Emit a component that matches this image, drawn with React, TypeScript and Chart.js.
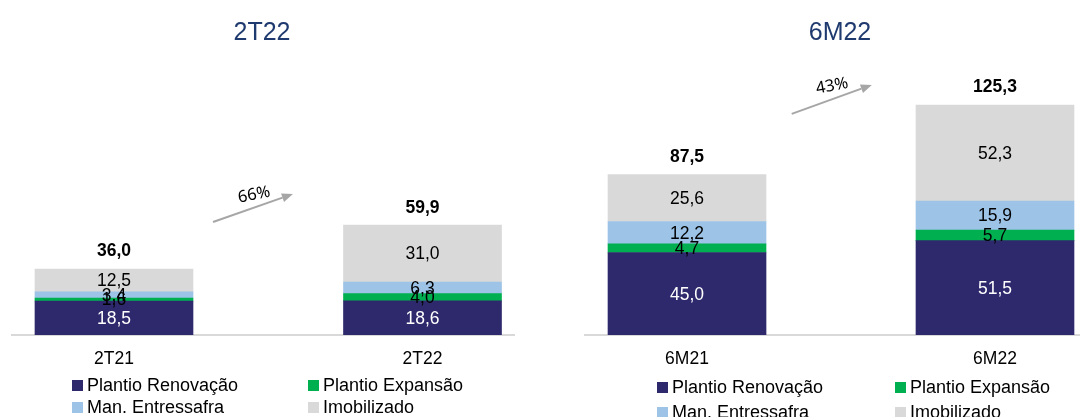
import React, { useEffect, useRef } from "react";
import { Chart, registerables } from "chart.js";

Chart.register(...registerables);

// ---------- DATA ----------
const seriesNames = ["Plantio Renovação", "Plantio Expansão", "Man. Entressafra", "Imobilizado"];
const seriesColors = ["#2E296C", "#00B050", "#9DC3E6", "#D9D9D9"];

const quarterTitle = "2T22";
const quarterCategories = ["2T21", "2T22"];
const quarterRenovacao = [18.5, 18.6];
const quarterExpansao = [1.6, 4.0];
const quarterEntressafra = [3.4, 6.3];
const quarterImobilizado = [12.5, 31.0];
const quarterTotals = [36.0, 59.9];
const quarterGrowth = "66%";

const semesterTitle = "6M22";
const semesterCategories = ["6M21", "6M22"];
const semesterRenovacao = [45.0, 51.5];
const semesterExpansao = [4.7, 5.7];
const semesterEntressafra = [12.2, 15.9];
const semesterImobilizado = [25.6, 52.3];
const semesterTotals = [87.5, 125.3];
const semesterGrowth = "43%";

// ---------- STYLE ----------
const FONT = "'Liberation Sans', Arial, sans-serif";
const TITLE_COLOR = "#1F3A6E";
const ARROW_COLOR = "#A6A6A6";

const fmt = (v: number) => v.toFixed(1).replace(".", ",");

type PanelLayout = {
  left: number;
  width: number;
  padLeft: number;
  padRight: number;
  xMin: number;
  xMax: number;
  titleX: number;
  arrow: { x0: number; y0: number; x1: number; y1: number; tx: number; ty: number };
  legendCols: number[];
  legendRows: number[];
};

type PanelProps = {
  title: string;
  categories: string[];
  series: number[][];
  totals: number[];
  growth: string;
  layout: PanelLayout;
};

function Panel({ title, categories, series, totals, growth, layout }: PanelProps) {
  const ref = useRef<HTMLCanvasElement | null>(null);

  useEffect(() => {
    if (!ref.current) return;

    const extras = {
      id: "panelExtras",
      afterDatasetsDraw(chart: any) {
        const ctx = chart.ctx as CanvasRenderingContext2D;
        const xs = chart.scales.x;
        const ys = chart.scales.y;
        ctx.save();
        // segment value labels
        ctx.textAlign = "center";
        ctx.textBaseline = "middle";
        ctx.font = `17.5px ${FONT}`;
        chart.data.datasets.forEach((ds: any, i: number) => {
          const meta = chart.getDatasetMeta(i);
          meta.data.forEach((el: any, j: number) => {
            const p = el.getProps(["x", "y", "base"], true);
            ctx.fillStyle = i === 0 ? "#FFFFFF" : "#000000";
            ctx.fillText(fmt(series[i][j]), p.x, (p.y + p.base) / 2 + 1);
          });
        });
        // totals above bars
        const lastMeta = chart.getDatasetMeta(chart.data.datasets.length - 1);
        ctx.font = `bold 17.5px ${FONT}`;
        ctx.fillStyle = "#000000";
        lastMeta.data.forEach((el: any, j: number) => {
          const p = el.getProps(["x", "y"], true);
          ctx.fillText(fmt(totals[j]), p.x, p.y - 17.5);
        });
        // panel title
        ctx.font = `25px ${FONT}`;
        ctx.fillStyle = TITLE_COLOR;
        ctx.fillText(title, layout.titleX, 33);
        // growth arrow
        const a = layout.arrow;
        const x0 = xs.getPixelForValue(a.x0);
        const y0 = ys.getPixelForValue(a.y0);
        const x1 = xs.getPixelForValue(a.x1);
        const y1 = ys.getPixelForValue(a.y1);
        const ang = Math.atan2(y1 - y0, x1 - x0);
        const head = 11;
        ctx.strokeStyle = ARROW_COLOR;
        ctx.fillStyle = ARROW_COLOR;
        ctx.lineWidth = 2;
        ctx.beginPath();
        ctx.moveTo(x0, y0);
        ctx.lineTo(x1 - head * Math.cos(ang), y1 - head * Math.sin(ang));
        ctx.stroke();
        ctx.beginPath();
        ctx.moveTo(x1, y1);
        ctx.lineTo(
          x1 - head * Math.cos(ang) + 4.5 * Math.sin(ang),
          y1 - head * Math.sin(ang) - 4.5 * Math.cos(ang)
        );
        ctx.lineTo(
          x1 - head * Math.cos(ang) - 4.5 * Math.sin(ang),
          y1 - head * Math.sin(ang) + 4.5 * Math.cos(ang)
        );
        ctx.closePath();
        ctx.fill();
        // growth text
        const tx = xs.getPixelForValue(a.tx);
        const ty = ys.getPixelForValue(a.ty);
        ctx.translate(tx, ty);
        ctx.rotate((-11 * Math.PI) / 180);
        ctx.font = `16.5px 'Noto Sans', 'Open Sans', sans-serif`;
        ctx.fillStyle = "#000000";
        ctx.fillText(growth, 0, 0);
        ctx.restore();
      },
    };

    const chart = new Chart(ref.current, {
      type: "bar",
      data: {
        datasets: series.map((vals, i) => ({
          label: seriesNames[i],
          data: vals.map((v, j) => ({ x: j, y: v })),
          backgroundColor: seriesColors[i],
          borderWidth: 0,
          barThickness: 158,
        })),
      },
      options: {
        animation: false,
        responsive: false,
        maintainAspectRatio: false,
        layout: { padding: { left: layout.padLeft, right: layout.padRight, top: 60, bottom: 0 } },
        plugins: {
          legend: { display: false },
          tooltip: { enabled: false },
          title: { display: false },
        },
        scales: {
          x: {
            type: "linear",
            min: layout.xMin,
            max: layout.xMax,
            offset: false,
            bounds: "data",
            grace: 0,
            stacked: true,
            grid: { display: false, offset: false },
            border: { display: true, color: "#D9D9D9", width: 2 },
            afterBuildTicks: (s: any) => {
              s.ticks = categories.map((_, i) => ({ value: i }));
            },
            afterFit: (s: any) => {
              s.height = 82;
            },
            ticks: {
              autoSkip: false,
              maxRotation: 0,
              padding: 6,
              color: "#000000",
              font: { family: FONT, size: 17.5 },
              callback: (v: any) => categories[v as number] ?? "",
            },
          },
          y: { display: false, stacked: true, min: 0, max: 150 },
        },
      } as any,
      plugins: [extras],
    });
    return () => chart.destroy();
  }, []);

  return (
    <div style={{ position: "absolute", left: layout.left, top: 0, width: layout.width, height: 417 }}>
      <canvas ref={ref} width={layout.width} height={417} style={{ width: layout.width, height: 417, display: "block" }} />
      {seriesNames.map((name, i) => {
        const col = layout.legendCols[i % 2];
        const row = layout.legendRows[Math.floor(i / 2)];
        return (
          <div
            key={name}
            style={{
              position: "absolute",
              left: col,
              top: row - 11,
              height: 22,
              display: "flex",
              alignItems: "center",
              whiteSpace: "nowrap",
              fontFamily: FONT,
              fontSize: 18,
              color: "#000",
            }}
          >
            <span style={{ display: "inline-block", width: 11, height: 11, background: seriesColors[i], marginRight: 4 }} />
            <span>{name}</span>
          </div>
        );
      })}
    </div>
  );
}

const leftLayout: PanelLayout = {
  left: 0,
  width: 540,
  padLeft: 12,
  padRight: 26,
  xMin: -0.3306,
  xMax: 1.2966,
  titleX: 262,
  arrow: { x0: 0.321, y0: 61.6, x1: 0.58, y1: 76.9, tx: 0.454, ty: 76.4 },
  legendCols: [72, 308],
  legendRows: [385, 407],
};

const rightLayout: PanelLayout = {
  left: 540,
  width: 540,
  padLeft: 45,
  padRight: 0,
  xMin: -0.3312,
  xMax: 1.276,
  titleX: 300,
  arrow: { x0: 0.34, y0: 120.6, x1: 0.6, y1: 136.4, tx: 0.471, ty: 135.8 },
  legendCols: [117, 355],
  legendRows: [387, 412],
};

export default function App() {
  return (
    <div style={{ position: "fixed", left: 0, top: 0, width: 1080, height: 417, background: "#FFFFFF", overflow: "hidden" }}>
      <Panel
        title={quarterTitle}
        categories={quarterCategories}
        series={[quarterRenovacao, quarterExpansao, quarterEntressafra, quarterImobilizado]}
        totals={quarterTotals}
        growth={quarterGrowth}
        layout={leftLayout}
      />
      <Panel
        title={semesterTitle}
        categories={semesterCategories}
        series={[semesterRenovacao, semesterExpansao, semesterEntressafra, semesterImobilizado]}
        totals={semesterTotals}
        growth={semesterGrowth}
        layout={rightLayout}
      />
    </div>
  );
}
